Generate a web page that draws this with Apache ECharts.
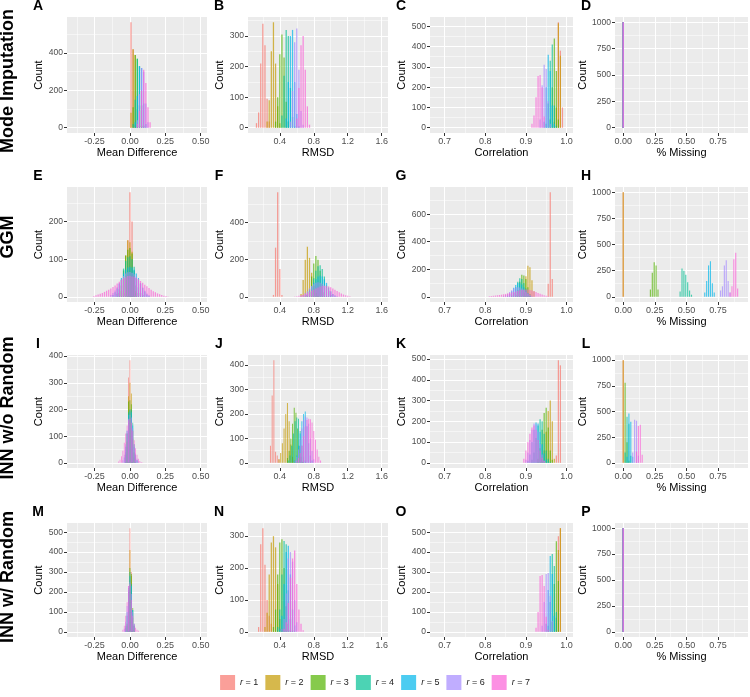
<!DOCTYPE html>
<html><head><meta charset="utf-8">
<script src="https://cdn.jsdelivr.net/npm/echarts@6/dist/echarts.min.js"></script>
<style>html,body{margin:0;padding:0;background:#fff}#c{width:750px;height:697px}</style>
</head><body><div id="c"></div><script>
// ---------- labels ----------
const SERIES_NAMES = ['r = 1','r = 2','r = 3','r = 4','r = 5','r = 6','r = 7'];
const ROW_LABELS = ['Mode Imputation','GGM','INN w/o Random','INN w/ Random'];
const COL_TITLES = ['Mean Difference','RMSD','Correlation','% Missing'];
const PANEL_LETTERS = ['A','B','C','D','E','F','G','H','I','J','K','L','M','N','O','P'];
// ---------- x axes (per column) ----------
const X_LIMITS = [[-0.445,0.545],[0.025,1.675],[0.664,1.016],[-0.065,0.987]];
const X_TICKS = [[-0.25,0,0.25,0.5],[0.4,0.8,1.2,1.6],[0.7,0.8,0.9,1.0],[0,0.25,0.5,0.75]];
const X_DECIMALS = [2,1,1,2];
// ---------- y tick labels (per panel) ----------
const yTicksA=[0,200,400], yTicksB=[0,100,200,300], yTicksC=[0,100,200,300,400,500], yTicksD=[0,250,500,750,1000];
const yTicksE=[0,100,200], yTicksF=[0,200,400], yTicksG=[0,200,400,600,800], yTicksH=[0,250,500,750,1000];
const yTicksI=[0,100,200,300,400], yTicksJ=[0,100,200,300,400], yTicksK=[0,100,200,300,400,500], yTicksL=[0,250,500,750,1000];
const yTicksM=[0,100,200,300,400,500], yTicksN=[0,100,200,300], yTicksO=[0,100,200,300,400,500], yTicksP=[0,250,500,750,1000];
// ---------- histograms: bin width, and per r: [first bin centre, counts] ----------
const binA = 0.015;
const histA = [[0.0075,[565,420,15]],[0.0075,[80,420,390,100,10]],[0.0225,[110,390,370,120,10]],
  [0.0225,[20,150,370,330,120,10]],[0.0375,[30,170,330,320,130,20]],[0.0525,[40,180,320,300,130,30]],
  [0.0525,[20,90,200,310,240,110,30]]];
const binB = 0.025;
const histB = [[0.125,[15,50,210,340,270,95,20]],[0.25,[20,90,250,345,210,70,15]],[0.35,[20,100,240,305,230,85,20]],
  [0.425,[40,170,320,300,130,35,5]],[0.475,[30,150,300,320,150,45,5]],[0.525,[20,120,280,325,190,55,10]],
  [0.6,[30,130,270,300,190,70,10]]];
const binC = 0.005;
const histC = [[0.98,[520,380,100]],[0.97,[30,100,515,355]],[0.96,[40,200,440,280,40]],
  [0.95,[20,120,330,410,110,10]],[0.945,[30,200,360,280,110,20]],[0.935,[40,210,310,290,130,20]],
  [0.915,[20,60,150,255,260,200,55]]];
const binD = 0.02;
const histD = [[0,[1000]],[0,[1000]],[0,[1000]],[0,[1000]],[0,[1000]],[0,[1000]],[0,[1000]]];
const binE = 0.015;
const histE = [[-0.045,[10,60,150,278,200,60,10]],[-0.06,[15,50,110,150,145,120,55,15]],
  [-0.075,[10,30,70,110,125,130,115,70,30,10]],[-0.09,[8,20,45,75,95,105,108,100,80,50,25,10,5]],
  [-0.12,[5,12,22,35,50,62,72,78,80,78,72,62,50,36,24,14,6,3]],
  [-0.135,[5,10,17,25,35,45,55,62,65,66,64,60,53,44,34,24,16,9,4]],
  [-0.255,[2,4,6,8,10,13,16,19,22,26,30,35,40,46,50,52,55,56,54,53,50,47,42,37,32,28,23,19,15,12,9,7,5,3,2,1]]];
const binF = 0.025;
const histF = [[0.325,[10,265,564,150,10]],[0.65,[15,90,200,270,210,130,60,20,5]],
  [0.725,[10,40,110,180,220,200,140,70,25,5]],[0.725,[10,25,60,100,140,165,170,150,110,60,30,10]],
  [0.7,[5,15,30,50,75,95,110,115,110,95,75,50,30,15,5]],
  [0.65,[5,10,20,30,45,58,68,75,78,76,70,60,48,36,25,15,8,4]],
  [0.575,[2,3,5,8,11,15,20,26,32,38,44,50,55,58,60,59,56,51,45,38,31,24,17,12,8,5,3]]];
const binG = 0.005;
const histG = [[0.955,[95,760,130]],[0.895,[30,150,225,215,120,40]],[0.875,[15,50,110,160,155,130,70,20]],
  [0.865,[10,30,70,110,135,130,100,60,25,8]],[0.855,[8,20,40,65,85,100,100,90,70,45,25,10]],
  [0.845,[5,12,22,35,48,60,68,70,68,60,48,35,22,12,6]],
  [0.81,[3,5,7,9,11,13,15,18,21,24,27,31,35,39,43,47,50,52,53,52,49,45,40,34,28,22,16,11,7,4]]];
const binH = 0.015;
const histH = [[0,[1000]],[0,[1000]],[0.215,[70,230,330,300,70]],[0.45,[50,270,250,210,140,60,20]],
  [0.645,[40,150,300,340,130,40]],[0.77,[60,100,300,350,150,40]],[0.845,[40,100,360,420,80]]];
const binI = 0.01;
const histI = [[-0.02,[60,320,385,200,35]],[-0.02,[80,250,300,260,90,20]],[-0.03,[30,110,230,235,220,120,40,15]],
  [-0.03,[40,110,190,200,200,150,70,30,10]],[-0.04,[20,60,120,180,195,190,140,60,25,10]],
  [-0.05,[10,30,70,120,165,180,170,130,70,35,15,5]],
  [-0.08,[5,12,25,45,75,110,140,160,165,150,120,85,55,30,15,7,3,1]]];
const binJ = 0.02;
const histJ = [[0.29,[70,275,420,45,30,15]],[0.39,[15,40,80,140,200,245,170,75,25,10]],
  [0.49,[20,50,100,160,225,205,140,70,25,5]],[0.5,[10,30,70,120,170,185,180,130,70,25,10]],
  [0.58,[10,30,70,120,170,200,210,150,80,30,10]],[0.58,[10,25,55,95,140,175,190,185,160,100,50,15]],
  [0.6,[10,20,40,70,110,150,175,180,178,165,130,95,55,25,10]]];
const binK = 0.005;
const histK = [[0.975,[35,495,470]],[0.94,[20,60,150,250,300,200,20]],[0.93,[20,70,160,240,265,170,60,15]],
  [0.915,[15,50,120,180,210,200,140,60,20,5]],[0.905,[10,40,100,160,195,190,150,90,45,15,5]],
  [0.9,[15,50,110,160,190,185,150,90,40,10]],[0.895,[20,60,100,140,170,180,160,110,60,25,10]]];
const binL = 0.015;
const histL = [[0,[1000]],[0,[1000]],[0.015,[780,200,20]],[0.015,[100,450,380,70]],
  [0.03,[60,480,400,60]],[0.075,[100,420,410,70]],[0.105,[110,360,370,80]]];
const binM = 0.01;
const histM = [[-0.01,[150,520,300,30]],[-0.02,[30,200,410,280,70,10]],[-0.02,[40,200,320,290,120,30]],
  [-0.03,[20,80,220,300,240,110,30]],[-0.03,[30,100,210,280,230,110,40]],
  [-0.04,[15,50,130,230,250,190,100,35]],[-0.05,[10,30,80,150,230,240,160,80,40,20,10,5]]];
const binN = 0.025;
const histN = [[0.15,[15,275,325,210,100,50,25]],[0.225,[15,60,180,280,300,265,150,40,10]],
  [0.325,[15,70,180,280,290,200,80,25,5]],[0.375,[15,70,180,285,275,130,40,5]],
  [0.4,[10,50,150,250,270,180,70,20]],[0.425,[10,40,120,230,250,220,100,30]],
  [0.45,[10,30,90,170,230,255,150,70,25,5]]];
const binO = 0.005;
const histO = [[0.98,[480,520]],[0.975,[70,410,520]],[0.965,[50,240,455,255]],[0.955,[30,150,390,330,100]],
  [0.95,[40,210,380,290,80]],[0.94,[30,150,290,295,180,55]],[0.925,[20,100,280,285,230,75,10]]];
const binP = 0.02;
const histP = [[0,[1000]],[0,[1000]],[0,[1000]],[0,[1000]],[0,[1000]],[0,[1000]],[0,[1000]]];

// ---------- styling / layout ----------
const COLORS = ['#F8766D','#C49A00','#53B400','#00C094','#00B6EB','#A58AFF','#FB61D7'];
const ALPHA = 0.7;
const BAR_FRACTION = 0.6;
const FONT = 'Liberation Sans, Arial, Helvetica, sans-serif';
const GRID_LEFT = [67,248,430,615], GRID_W = [140,140,143,133];
const GRID_TOP = [17,187,355,523], GRID_H = [116,115,113,114];
const ROW_LABEL_Y = [81,237,408,577];

const PANELS = [
  [histA,binA,yTicksA],[histB,binB,yTicksB],[histC,binC,yTicksC],[histD,binD,yTicksD],
  [histE,binE,yTicksE],[histF,binF,yTicksF],[histG,binG,yTicksG],[histH,binH,yTicksH],
  [histI,binI,yTicksI],[histJ,binJ,yTicksJ],[histK,binK,yTicksK],[histL,binL,yTicksL],
  [histM,binM,yTicksM],[histN,binN,yTicksN],[histO,binO,yTicksO],[histP,binP,yTicksP]];

function rgba(hex, a){const n=parseInt(hex.slice(1),16);return `rgba(${n>>16},${(n>>8)&255},${n&255},${a})`;}
function minorValues(major, lo, hi){const s=major[1]-major[0];const out=[];for(let v=major[0]-s/2; v<hi; v+=s){if(v>lo && v<hi) out.push(+v.toFixed(6));}return out;}
function makeRender(bin, color){
  const fill = rgba(color, ALPHA);
  const half = bin*BAR_FRACTION/2;
  return function(params, api){
    const x = api.value(0), c = api.value(1);
    const a = api.coord([x - half, c]);
    const b = api.coord([x + half, 0]);
    return {type:'rect', shape:{x:a[0], y:a[1], width:b[0]-a[0], height:b[1]-a[1]},
      style:{fill: fill}};
  };
}

const grids=[], xAxes=[], yAxes=[], series=[], graphics=[];
PANELS.forEach(([hist,bin,yTicks], i) => {
  const r = Math.floor(i/4), c = i%4;
  grids.push({left:GRID_LEFT[c], top:GRID_TOP[r], width:GRID_W[c], height:GRID_H[r],
    show:true, backgroundColor:'#EBEBEB', borderWidth:0});
  const maxCount = Math.max(...hist.map(h => Math.max(...h[1])));
  const yLo = -0.05*maxCount, yHi = 1.05*maxCount;
  const [xLo,xHi] = X_LIMITS[c];
  const xMajor = X_TICKS[c];
  xAxes.push({type:'value', gridIndex:i, position:'bottom', min:xLo, max:xHi,
    axisLine:{show:false, onZero:false},
    axisTick:{show:true, length:3, lineStyle:{color:'#333333', width:1}, customValues:xMajor},
    axisLabel:{customValues:xMajor, formatter:v=>Number(v).toFixed(X_DECIMALS[c]), color:'#4D4D4D', fontSize:9, margin:4, fontFamily:FONT},
    splitLine:{show:true, lineStyle:{color:'#FFFFFF', width:1}},
    name:COL_TITLES[c], nameLocation:'middle', nameGap:14,
    nameTextStyle:{fontSize:11, color:'#000', fontFamily:FONT}});
  xAxes.push({type:'value', gridIndex:i, position:'top', min:xLo, max:xHi,
    axisLine:{show:false, onZero:false}, axisTick:{show:false, customValues:minorValues(xMajor,xLo,xHi)},
    axisLabel:{show:false}, splitLine:{show:true, lineStyle:{color:'#FFFFFF', width:0.5}}});
  yAxes.push({type:'value', gridIndex:i, position:'left', min:yLo, max:yHi,
    axisLine:{show:false, onZero:false},
    axisTick:{show:true, length:3, lineStyle:{color:'#333333', width:1}, customValues:yTicks},
    axisLabel:{customValues:yTicks, formatter:v=>String(Math.round(v)), color:'#4D4D4D', fontSize:8.5, margin:4, fontFamily:FONT},
    splitLine:{show:true, lineStyle:{color:'#FFFFFF', width:1}},
    name:'Count', nameLocation:'middle', nameGap:14,
    nameTextStyle:{fontSize:11, color:'#000', fontFamily:FONT}});
  yAxes.push({type:'value', gridIndex:i, position:'right', min:yLo, max:yHi,
    axisLine:{show:false, onZero:false}, axisTick:{show:false, customValues:minorValues(yTicks,yLo,yHi)},
    axisLabel:{show:false}, splitLine:{show:true, lineStyle:{color:'#FFFFFF', width:0.5}}});
  hist.forEach(([start, counts], s) => {
    series.push({type:'custom', name:SERIES_NAMES[s], xAxisIndex:2*i, yAxisIndex:2*i, clip:true,
      itemStyle:{color:COLORS[s]},
      renderItem:makeRender(bin, COLORS[s]),
      data:counts.map((n,k)=>[+(start + k*bin).toFixed(5), n])});
  });
  graphics.push({type:'text', x:GRID_LEFT[c]-29, y:GRID_TOP[r]-11,
    style:{text:PANEL_LETTERS[i], font:'bold 14px '+FONT, fill:'#000',
      textAlign:'center', textVerticalAlign:'middle', align:'center', verticalAlign:'middle'}});
});
ROW_LABELS.forEach((t, r) => {
  graphics.push({type:'text', x:8, y:ROW_LABEL_Y[r], rotation:Math.PI/2,
    style:{text:t, font:'bold 18px '+FONT, fill:'#000',
      textAlign:'center', textVerticalAlign:'middle', align:'center', verticalAlign:'middle'}});
});

const chart = echarts.init(document.getElementById('c'), null, {renderer:'canvas'});
chart.setOption({
  animation:false,
  backgroundColor:'#FFFFFF',
  grid:grids, xAxis:xAxes, yAxis:yAxes, series:series, graphic:graphics,
  legend:{bottom:2, left:'center', itemWidth:15, itemHeight:15, itemGap:7,
    data:SERIES_NAMES.map((n,s)=>({name:n, icon:'rect', itemStyle:{color:rgba(COLORS[s],ALPHA), borderWidth:0}})),
    formatter:n=>'{i|r}'+n.slice(1),
    textStyle:{fontSize:9, color:'#1A1A1A', fontFamily:FONT, rich:{i:{fontStyle:'italic', fontSize:9, fontFamily:FONT}}}}
});
</script></body></html>
